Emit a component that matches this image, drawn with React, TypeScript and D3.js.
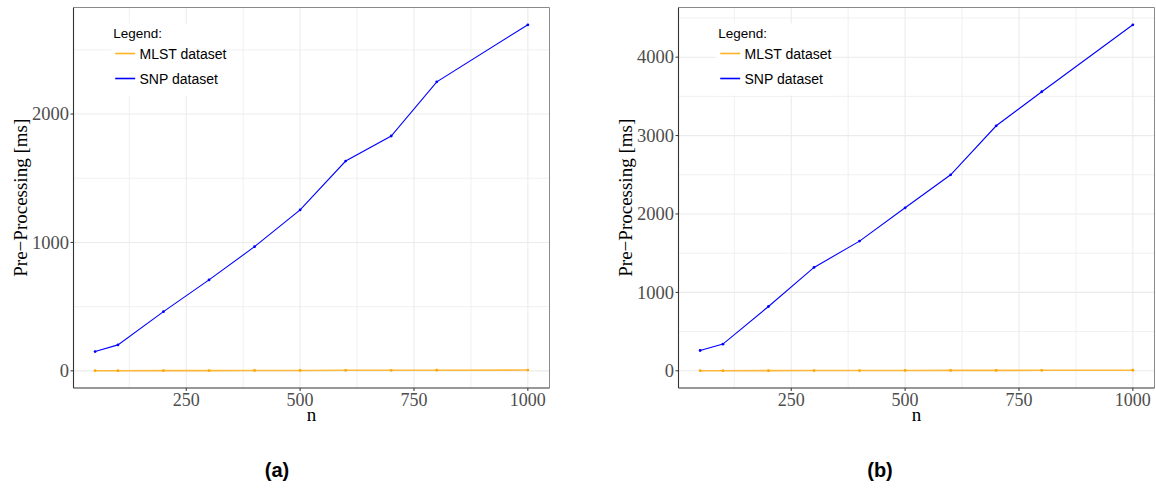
import React from "react";
import * as d3 from "d3";

const nValues = [50, 100, 200, 300, 400, 500, 600, 700, 800, 1000];
const snpA = [150, 202, 461, 708, 967, 1253, 1634, 1829, 2251, 2695];
const mlstA = [1, 1, 2, 2, 3, 3, 4, 4, 5, 6];
const snpB = [259, 340, 820, 1318, 1654, 2079, 2500, 3125, 3559, 4413];
const mlstB = [1, 1, 2, 3, 3, 4, 5, 5, 6, 7];
const xTicks = [250, 500, 750, 1000];
const xMinor = [125, 375, 625, 875];
const yTicksA = [0, 1000, 2000];
const yMinorA = [500, 1500, 2500];
const yTicksB = [0, 1000, 2000, 3000, 4000];
const yMinorB = [500, 1500, 2500, 3500, 4500];
const seriesNames = ["MLST dataset", "SNP dataset"];
const seriesColors = ["#FFA500", "#0000FF"];
const captions = ["(a)", "(b)"];

const SERIF = "'Liberation Serif', 'DejaVu Serif', serif";
const SANS = "'Liberation Sans', Arial, sans-serif";

type PanelProps = {
  left: number;
  right: number;
  top: number;
  bottom: number;
  snp: number[];
  mlst: number[];
  yTicks: number[];
  yMinor: number[];
  caption: string;
  captionX: number;
};

function Panel(p: PanelProps) {
  const xMin = d3.min(nValues)!;
  const xMax = d3.max(nValues)!;
  const xPad = (xMax - xMin) * 0.05;
  const x = d3.scaleLinear().domain([xMin - xPad, xMax + xPad]).range([p.left, p.right]);
  const all = [...p.snp, ...p.mlst];
  const yMin = d3.min(all)!;
  const yMax = d3.max(all)!;
  const yPad = (yMax - yMin) * 0.05;
  const y = d3.scaleLinear().domain([yMin - yPad, yMax + yPad]).range([p.bottom, p.top]);
  const line = d3
    .line<number>()
    .x((_, i) => x(nValues[i]))
    .y((d) => y(d));
  const data = [p.mlst, p.snp];
  const cy = (p.top + p.bottom) / 2;
  const cx = (p.left + p.right) / 2;
  return (
    <g>
      {xMinor.map((t) => (
        <line key={"xm" + t} x1={x(t)} x2={x(t)} y1={p.top} y2={p.bottom} stroke="#EEEEEE" strokeWidth={0.9} />
      ))}
      {p.yMinor.map((t) => (
        <line key={"ym" + t} x1={p.left} x2={p.right} y1={y(t)} y2={y(t)} stroke="#EEEEEE" strokeWidth={0.9} />
      ))}
      {xTicks.map((t) => (
        <line key={"xg" + t} x1={x(t)} x2={x(t)} y1={p.top} y2={p.bottom} stroke="#EBEBEB" strokeWidth={1.1} />
      ))}
      {p.yTicks.map((t) => (
        <line key={"yg" + t} x1={p.left} x2={p.right} y1={y(t)} y2={y(t)} stroke="#EBEBEB" strokeWidth={1.1} />
      ))}
      {data.map((s, k) => (
        <g key={"s" + k}>
          <path
            d={line(s)!}
            fill="none"
            stroke={seriesColors[k]}
            strokeWidth={k === 0 ? 1.6 : 1.1}
            strokeOpacity={k === 0 ? 0.75 : 1}
          />
          {s.map((v, i) => (
            <circle key={i} cx={x(nValues[i])} cy={y(v)} r={1.4} fill={seriesColors[k]} />
          ))}
        </g>
      ))}
      <rect x={p.left + 38} y={p.top + 16} width={114} height={72} fill="#FFFFFF" />
      <text x={p.left + 39.7} y={p.top + 30} fontFamily={SANS} fontSize={13.5} fill="#000">
        Legend:
      </text>
      {seriesNames.map((nm, k) => (
        <g key={"lg" + k}>
          <line
            x1={p.left + 41.7}
            x2={p.left + 61.7}
            y1={p.top + 46 + k * 25}
            y2={p.top + 46 + k * 25}
            stroke={seriesColors[k]}
            strokeWidth={1.6}
            strokeOpacity={k === 0 ? 0.85 : 1}
          />
          <text x={p.left + 66} y={p.top + 51 + k * 25} fontFamily={SANS} fontSize={14} fill="#000">
            {nm}
          </text>
        </g>
      ))}
      <line x1={p.left} x2={p.right} y1={p.top} y2={p.top} stroke="#8A8A8A" strokeWidth={1} />
      <line x1={p.right} x2={p.right} y1={p.top} y2={p.bottom} stroke="#8A8A8A" strokeWidth={1} />
      <line x1={p.left} x2={p.left} y1={p.top} y2={p.bottom} stroke="#333333" strokeWidth={1.1} />
      <line x1={p.left} x2={p.right} y1={p.bottom} y2={p.bottom} stroke="#333333" strokeWidth={1.1} />
      {p.yTicks.map((t) => (
        <g key={"yt" + t}>
          <line x1={p.left - 3} x2={p.left} y1={y(t)} y2={y(t)} stroke="#333333" strokeWidth={1} />
          <text
            x={p.left - 4.5}
            y={y(t)}
            dy="0.34em"
            textAnchor="end"
            fontFamily={SERIF}
            fontSize={18.5}
            fill="#4D4D4D"
          >
            {t}
          </text>
        </g>
      ))}
      {xTicks.map((t) => (
        <g key={"xt" + t}>
          <line x1={x(t)} x2={x(t)} y1={p.bottom} y2={p.bottom + 3} stroke="#333333" strokeWidth={1} />
          <text x={x(t)} y={p.bottom + 17.5} textAnchor="middle" fontFamily={SERIF} fontSize={18} fill="#4D4D4D">
            {t}
          </text>
        </g>
      ))}
      <text x={cx} y={p.bottom + 33} textAnchor="middle" fontFamily={SERIF} fontSize={19} fill="#000">
        n
      </text>
      <text
        transform={`translate(${p.left - 47},${cy}) rotate(-90)`}
        textAnchor="middle"
        fontFamily={SERIF}
        fontSize={19}
        fill="#000"
      >
        Pre−Processing [ms]
      </text>
      <text x={p.captionX} y={477} textAnchor="middle" fontFamily={SANS} fontWeight="bold" fontSize={20} fill="#000">
        {p.caption}
      </text>
    </g>
  );
}

export default function App() {
  return (
    <div style={{ position: "absolute", left: 0, top: 0 }}>
      <svg width={1156} height={489} style={{ display: "block", background: "#FFFFFF" }}>
        <rect x={0} y={0} width={1156} height={489} fill="#FFFFFF" />
        <Panel
          left={73.5}
          right={549.5}
          top={7.5}
          bottom={388}
          snp={snpA}
          mlst={mlstA}
          yTicks={yTicksA}
          yMinor={yMinorA}
          caption={captions[0]}
          captionX={277}
        />
        <Panel
          left={678.5}
          right={1154.5}
          top={7.5}
          bottom={388}
          snp={snpB}
          mlst={mlstB}
          yTicks={yTicksB}
          yMinor={yMinorB}
          caption={captions[1]}
          captionX={880}
        />
      </svg>
    </div>
  );
}
